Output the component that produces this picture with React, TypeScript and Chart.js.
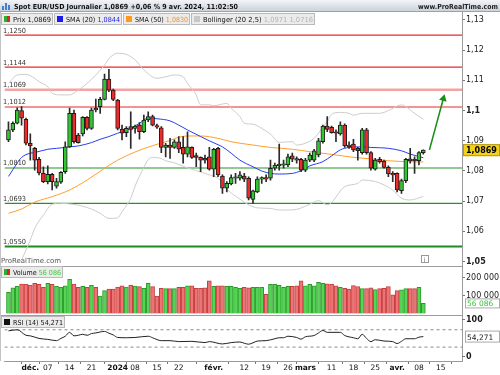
import React, { useEffect, useRef } from 'react';
import { Chart, registerables } from 'chart.js';

Chart.register(...registerables);

const FONT = '"DejaVu Sans", Verdana, sans-serif';

// trading-day index of the first candle (0 = Fri 1 Dec 2023; 25 Dec and 1 Jan are not trading days)
const FIRST_DAY = -5;

const OPEN = [
  1.0903, 1.0936, 1.0958, 1.1000, 1.0971, 1.0892, 1.0875, 1.0839, 1.0792, 1.0765,
  1.0789, 1.0750, 1.0763, 1.0798, 1.0880, 1.0991, 1.0919, 1.0923, 1.0978, 1.0941,
  1.1008, 1.1013, 1.1037, 1.1104, 1.1068, 1.1035, 1.0939, 1.0927, 1.0947, 1.0941,
  1.0952, 1.0930, 1.0969, 1.0980, 1.0950, 1.0943, 1.0878, 1.0886, 1.0878, 1.0897,
  1.0878, 1.0856, 1.0878, 1.0851, 1.0845, 1.0842, 1.0847, 1.0806, 1.0875, 1.0783,
  1.0743, 1.0757, 1.0776, 1.0776, 1.0783, 1.0776, 1.0706, 1.0731, 1.0773, 1.0778,
  1.0776, 1.0809, 1.0817, 1.0819, 1.0820, 1.0850, 1.0841, 1.0839, 1.0803, 1.0836,
  1.0836, 1.0853, 1.0897, 1.0949, 1.0945, 1.0930, 1.0923, 1.0952, 1.0886, 1.0889,
  1.0875, 1.0861, 1.0936, 1.0861, 1.0806, 1.0839, 1.0833, 1.0812, 1.0792, 1.0792,
  1.0735, 1.0768, 1.0840, 1.0839, 1.0834, 1.0861,
];
const HIGH = [
  1.0963, 1.0963, 1.1009, 1.1013, 1.0975, 1.0923, 1.0878, 1.0845, 1.0814, 1.0817,
  1.0792, 1.0776, 1.0798, 1.0897, 1.1008, 1.1002, 1.0925, 1.0980, 1.0980, 1.1008,
  1.1038, 1.1044, 1.1121, 1.1137, 1.1071, 1.1037, 1.0952, 1.0947, 1.0996, 1.0952,
  1.0960, 1.0985, 1.0996, 1.0985, 1.0955, 1.0947, 1.0892, 1.0908, 1.0903, 1.0914,
  1.0914, 1.0930, 1.0880, 1.0859, 1.0847, 1.0853, 1.0878, 1.0875, 1.0878, 1.0787,
  1.0765, 1.0787, 1.0792, 1.0798, 1.0792, 1.0781, 1.0737, 1.0781, 1.0781, 1.0787,
  1.0836, 1.0826, 1.0889, 1.0836, 1.0856, 1.0859, 1.0847, 1.0842, 1.0842, 1.0859,
  1.0872, 1.0908, 1.0952, 1.0980, 1.0949, 1.0936, 1.0963, 1.0956, 1.0897, 1.0905,
  1.0878, 1.0941, 1.0941, 1.0864, 1.0842, 1.0845, 1.0836, 1.0817, 1.0798, 1.0794,
  1.0773, 1.0842, 1.0875, 1.0847, 1.0864, 1.0870,
];
const LOW = [
  1.0897, 1.0930, 1.0956, 1.0952, 1.0886, 1.0836, 1.0803, 1.0787, 1.0761, 1.0757,
  1.0737, 1.0743, 1.0759, 1.0792, 1.0878, 1.0892, 1.0892, 1.0916, 1.0936, 1.0938,
  1.0996, 1.0991, 1.1035, 1.1063, 1.1033, 1.0936, 1.0903, 1.0914, 1.0875, 1.0925,
  1.0905, 1.0927, 1.0963, 1.0949, 1.0941, 1.0861, 1.0847, 1.0842, 1.0875, 1.0861,
  1.0826, 1.0847, 1.0842, 1.0814, 1.0798, 1.0826, 1.0803, 1.0781, 1.0781, 1.0726,
  1.0731, 1.0754, 1.0759, 1.0770, 1.0765, 1.0704, 1.0693, 1.0728, 1.0759, 1.0765,
  1.0770, 1.0803, 1.0803, 1.0809, 1.0814, 1.0831, 1.0826, 1.0798, 1.0798, 1.0831,
  1.0831, 1.0847, 1.0892, 1.0930, 1.0925, 1.0897, 1.0919, 1.0878, 1.0875, 1.0864,
  1.0836, 1.0856, 1.0856, 1.0803, 1.0803, 1.0826, 1.0809, 1.0781, 1.0765, 1.0731,
  1.0726, 1.0761, 1.0826, 1.0792, 1.0820, 1.0856,
];
const CLOSE = [
  1.0936, 1.0958, 1.1002, 1.0975, 1.0892, 1.0883, 1.0836, 1.0794, 1.0765, 1.0789,
  1.0765, 1.0765, 1.0796, 1.0880, 1.0991, 1.0897, 1.0894, 1.0978, 1.0941, 1.1002,
  1.1002, 1.1037, 1.1104, 1.1068, 1.1037, 1.0941, 1.0925, 1.0941, 1.0938, 1.0949,
  1.0930, 1.0969, 1.0980, 1.0952, 1.0945, 1.0878, 1.0886, 1.0878, 1.0897, 1.0872,
  1.0856, 1.0880, 1.0845, 1.0845, 1.0836, 1.0836, 1.0806, 1.0872, 1.0787, 1.0743,
  1.0759, 1.0778, 1.0781, 1.0787, 1.0773, 1.0710, 1.0734, 1.0773, 1.0776, 1.0773,
  1.0809, 1.0820, 1.0823, 1.0823, 1.0847, 1.0839, 1.0836, 1.0803, 1.0836, 1.0853,
  1.0867, 1.0900, 1.0949, 1.0938, 1.0927, 1.0925, 1.0952, 1.0883, 1.0880, 1.0870,
  1.0867, 1.0936, 1.0861, 1.0809, 1.0836, 1.0831, 1.0812, 1.0790, 1.0787, 1.0737,
  1.0768, 1.0839, 1.0834, 1.0834, 1.0861, 1.0869,
];
const VOLUME = [
  118000, 143000, 151000, 164000, 164000, 158000, 168000, 162000, 146000, 168000,
  162000, 151000, 146000, 154000, 190000, 164000, 146000, 151000, 146000, 157000,
  146000, 97000, 127000, 136000, 136000, 147000, 154000, 147000, 158000, 153000,
  149000, 140000, 168000, 149000, 97000, 140000, 138000, 138000, 138000, 146000,
  146000, 154000, 154000, 140000, 140000, 143000, 182000, 151000, 154000, 154000,
  151000, 151000, 146000, 140000, 146000, 143000, 146000, 146000, 146000, 107000,
  162000, 162000, 157000, 146000, 151000, 151000, 154000, 182000, 154000, 162000,
  154000, 173000, 168000, 165000, 162000, 154000, 146000, 140000, 136000, 155000,
  150000, 138000, 138000, 142000, 133000, 138000, 140000, 150000, 104000, 128000,
  131000, 138000, 138000, 138000, 146000, 56086,
];

const SMA20_DAY = [-5, -3, -2, 0, 1, 4, 6, 8, 9, 11, 14, 16, 18, 20, 23, 25, 27, 29, 32, 34, 36, 39, 41, 43, 44, 46, 48, 51, 53, 55, 57, 60, 62, 64, 67, 69, 71, 73, 76, 78, 80, 82, 85, 87, 90];
const SMA20 = [1.0782, 1.0826, 1.0845, 1.0859, 1.0861, 1.0872, 1.0875, 1.0878, 1.0880, 1.0883, 1.0894, 1.0905, 1.0914, 1.0925, 1.0941, 1.0958, 1.0975, 1.0973, 1.0966, 1.0952, 1.0936, 1.0914, 1.0900, 1.0887, 1.0880, 1.0859, 1.0836, 1.0814, 1.0800, 1.0792, 1.0790, 1.0792, 1.0801, 1.0817, 1.0831, 1.0850, 1.0870, 1.0878, 1.0880, 1.0878, 1.0877, 1.0875, 1.0867, 1.0856, 1.0844];

const SMA50_DAY = [-5, -2, 1, 5, 9, 13, 17, 20, 24, 28, 32, 34, 36, 39, 43, 46, 51, 55, 60, 64, 69, 73, 78, 82, 86, 90];
const SMA50 = [1.0660, 1.0674, 1.0697, 1.0715, 1.0737, 1.0770, 1.0809, 1.0836, 1.0863, 1.0884, 1.0901, 1.0912, 1.0916, 1.0916, 1.0908, 1.0897, 1.0886, 1.0878, 1.0872, 1.0864, 1.0855, 1.0847, 1.0840, 1.0834, 1.0831, 1.0830];

const BB_UP_DAY = [-5, -3, -1, 1, 2, 4, 5, 7, 9, 11, 13, 15, 17, 18, 20, 22, 24, 26, 29, 31, 33, 35, 36, 38, 39, 41, 42, 45, 46, 48, 49, 51, 53, 55, 57, 60, 61, 63, 65, 67, 68, 69, 71, 73, 74, 76, 80, 82, 85, 86, 88, 90];
const BB_UP = [1.1090, 1.1118, 1.1120, 1.1107, 1.1096, 1.1079, 1.1057, 1.1052, 1.1052, 1.1068, 1.1090, 1.1118, 1.1151, 1.1172, 1.1190, 1.1186, 1.1168, 1.1135, 1.1107, 1.1112, 1.1118, 1.1112, 1.1090, 1.1052, 1.1019, 1.1019, 1.1016, 1.1024, 1.1008, 1.0980, 1.0958, 1.0955, 1.0941, 1.0922, 1.0895, 1.0897, 1.0886, 1.0892, 1.0908, 1.0945, 1.0963, 1.0988, 1.0994, 1.0991, 1.0985, 1.0991, 1.0991, 1.1000, 1.1019, 1.1013, 1.0991, 1.0971];

const BB_LOW_DAY = [-2, 0, 1, 3, 5, 7, 9, 11, 14, 16, 18, 20, 21, 23, 24, 26, 27, 28, 30, 31, 33, 36, 39, 41, 43, 45, 48, 50, 52, 55, 57, 59, 61, 64, 66, 68, 72, 75, 76, 79, 81, 83, 85, 87, 90];
const BB_LOW = [1.0505, 1.0571, 1.0610, 1.0654, 1.0690, 1.0693, 1.0691, 1.0687, 1.0674, 1.0660, 1.0643, 1.0645, 1.0665, 1.0710, 1.0750, 1.0812, 1.0838, 1.0845, 1.0841, 1.0834, 1.0827, 1.0810, 1.0797, 1.0787, 1.0776, 1.0740, 1.0707, 1.0688, 1.0678, 1.0676, 1.0671, 1.0671, 1.0673, 1.0690, 1.0702, 1.0688, 1.0748, 1.0759, 1.0770, 1.0765, 1.0754, 1.0737, 1.0710, 1.0704, 1.0716];

const RSI_DAY = [-5, -3, -1, 0, 2, 4, 6, 7, 8, 9, 10, 11, 12, 13, 14, 15, 17, 18, 19, 20, 22, 24, 27, 28, 30, 32, 34, 37, 40, 41, 44, 46, 48, 49, 50, 51, 52, 54, 56, 57, 58, 59, 61, 62, 63, 65, 66, 67, 68, 71, 72, 74, 75, 76, 77, 78, 79, 81, 83, 84, 85, 86, 87, 88, 89, 90];
const RSI = [67.5, 70, 57.3, 56, 50, 47.8, 44.9, 50, 55, 64, 56, 57.3, 59.6, 57.3, 61.1, 62.7, 66.2, 62, 58, 52.2, 51.6, 52.2, 55.1, 51.6, 44.9, 44.9, 42.7, 43.3, 40.4, 42.7, 37.3, 40.4, 41.8, 38.9, 36.7, 40, 44, 44.9, 49.3, 51.6, 51.6, 55.1, 52.2, 48.4, 53.8, 56.7, 62.7, 68.4, 64, 64, 56.7, 51.6, 49.3, 59.6, 50, 42.7, 47.1, 44, 42.7, 38.2, 43.3, 49.3, 49.3, 49.3, 52.9, 54.271];
const RSI_BANDS = [30, 70];

const LEVELS = [1.1250, 1.1144, 1.1069, 1.1012, 1.0810, 1.0693, 1.0550];

const ARROW_DAY = [91.4, 94.6];
const ARROW_PRICE = [1.0870, 1.1040];

const X_TICK_DAY = [0, 4, 9, 14, 20, 24, 29, 34, 42, 49, 54, 59, 63, 69, 74, 79, 84, 89, 94];
const X_TICK_LABEL = ['déc.', '07', '14', '21', '2024', '08', '15', '22', 'févr.', '12', '19', '26', 'mars', '11', '18', '25', 'avr.', '08', '15'];
const PRICE_TICKS = [1.05, 1.06, 1.07, 1.08, 1.09, 1.10, 1.11, 1.12, 1.13];
const VOLUME_TICKS = [100000, 200000];
const RSI_TICKS = [0, 100];

const TITLE = 'Spot EUR/USD Journalier 1,0869 +0,06 % 9 avr. 2024, 11:02:50';
const SITE = 'www.ProRealTime.com';

// axis ranges (view window)
const X_MIN = -5.91, X_MAX = 98.86;
const P_MIN = 1.048543, P_MAX = 1.132649;
const V_MIN = -8300, V_MAX = 264000;
const R_MIN = -2, R_MAX = 104;

// styles
const UP = '#33c633';
const DOWN = '#ee2a2a';
const LEVEL_STYLE = [
  { c: '#e52b2b', w: 1.2 }, { c: '#e52b2b', w: 1.2 }, { c: '#f4a3a3', w: 2.6 }, { c: '#e52b2b', w: 1.2 },
  { c: '#24922a', w: 1.2 }, { c: '#24922a', w: 1.2 }, { c: '#1f8a1f', w: 2.2 },
];

const frNum = (v: number, d: number) => v.toFixed(d).replace('.', ',');
const frInt = (v: number) => Math.round(v).toString().replace(/\B(?=(\d{3})+(?!\d))/g, ' ');
const priceTick = (v: number) => v.toFixed(2).replace(/0+$/, '').replace(/\.$/, '').replace('.', ',');

type Part = [string, string];

function drawRun(ctx: CanvasRenderingContext2D, x: number, baseline: number, parts: Part[], font: string, maxW?: number, alignRight = false) {
  ctx.save();
  ctx.font = font;
  ctx.textBaseline = 'alphabetic';
  ctx.textAlign = 'left';
  const widths = parts.map((p) => ctx.measureText(p[0]).width);
  const total = widths.reduce((a, b) => a + b, 0);
  const k = maxW && total > maxW ? maxW / total : 1;
  const startX = alignRight ? x - total * k : x;
  ctx.translate(startX, baseline);
  ctx.scale(k, 1);
  let cx = 0;
  parts.forEach((p, i) => {
    ctx.fillStyle = p[1];
    ctx.fillText(p[0], cx, 0);
    cx += widths[i];
  });
  ctx.restore();
}

function legendBox(ctx: CanvasRenderingContext2D, x: number, y: number, w: number, h: number, icon: string, parts: Part[]) {
  ctx.save();
  ctx.fillStyle = '#ebebeb';
  ctx.fillRect(x, y, w, h);
  ctx.strokeStyle = '#b9b9b9';
  ctx.lineWidth = 1;
  ctx.strokeRect(x + 0.5, y + 0.5, w - 1, h - 1);
  const ix = x + 3, iy = y + 3, s = 6;
  if (icon === 'split') {
    ctx.fillStyle = '#2fae2f';
    ctx.fillRect(ix, iy, s / 2, s);
    ctx.fillStyle = '#d82828';
    ctx.fillRect(ix + s / 2, iy, s / 2, s);
  } else {
    ctx.fillStyle = icon;
    ctx.fillRect(ix, iy, s, s);
  }
  ctx.restore();
  drawRun(ctx, x + 12, y + h - 3, parts, `7px ${FONT}`, w - 14);
}

const overlay = {
  id: 'overlay',
  beforeDraw(chart: any) {
    const ctx = chart.ctx;
    ctx.save();
    ctx.fillStyle = '#ffffff';
    ctx.fillRect(0, 0, chart.width, chart.height);
    ctx.restore();
  },
  afterDatasetsDraw(chart: any) {
    const ctx = chart.ctx as CanvasRenderingContext2D;
    const yP = chart.scales.yPrice;
    LEVELS.forEach((lvl) => {
      const py = yP.getPixelForValue(lvl);
      drawRun(ctx, 3, py - 2.5, [[frNum(lvl, 4), '#333']], `7px ${FONT}`, 23);
    });
  },
  afterDraw(chart: any) {
    const ctx = chart.ctx as CanvasRenderingContext2D;
    const W = chart.width;
    const area = chart.chartArea;
    const yP = chart.scales.yPrice, yV = chart.scales.yVol, yR = chart.scales.yRsi;
    const last = CLOSE.length - 1;

    ctx.save();
    const g = ctx.createLinearGradient(0, 0, 0, 12);
    g.addColorStop(0, '#f2f4f7');
    g.addColorStop(1, '#c9d0d8');
    ctx.fillStyle = g;
    ctx.fillRect(0, 0, W, 12);
    ctx.fillStyle = '#9aa3ad';
    ctx.fillRect(0, 11, W, 1);
    const logo = [[2, 6, 4], [5, 3, 7], [8, 5, 5]];
    logo.forEach(([lx, ly, lh]) => {
      ctx.fillStyle = '#3f82d2';
      ctx.fillRect(lx, ly, 2, lh);
    });
    ctx.restore();
    drawRun(ctx, 14, 9, [[TITLE, '#111']], `bold 7px ${FONT}`, 224);
    drawRun(ctx, 498, 9, [[SITE, '#222']], `bold 7px ${FONT}`, 80, true);

    const lastSma20 = SMA20[SMA20.length - 1];
    const lastSma50 = SMA50[SMA50.length - 1];
    legendBox(ctx, 1, 13, 52, 12, 'split', [['Prix ' + frNum(CLOSE[last], 4), '#111']]);
    legendBox(ctx, 54, 13, 68, 12, '#1b1bf0', [['SMA (20) ', '#111'], [frNum(lastSma20, 4), '#2323ee']]);
    legendBox(ctx, 123, 13, 67, 12, '#ff9a1f', [['SMA (50) ', '#111'], [frNum(lastSma50, 4), '#f39322']]);
    legendBox(ctx, 191, 13, 124, 12, '#c8c8c8', [['Bollinger (20 2,5) ', '#111'], [frNum(BB_UP[BB_UP.length - 1], 4) + ' ' + frNum(BB_LOW[BB_LOW.length - 1], 4), '#b5b5b5']]);

    ctx.save();
    ctx.strokeStyle = '#9c9c9c';
    ctx.lineWidth = 1;
    [yV.top, yR.top].forEach((yy: number) => {
      const y = Math.round(yy) + 0.5;
      ctx.beginPath();
      ctx.moveTo(0, y);
      ctx.lineTo(area.right, y);
      ctx.stroke();
    });
    ctx.strokeStyle = '#c4c4c4';
    ctx.beginPath();
    ctx.moveTo(0.5, area.top);
    ctx.lineTo(0.5, area.bottom);
    ctx.stroke();
    ctx.restore();

    drawRun(ctx, 1, yV.top - 3, [['ProRealTime.com', '#555']], `7px ${FONT}`, 60);
    ctx.save();
    ctx.strokeStyle = '#999';
    ctx.strokeRect(421.5, yV.top - 10.5, 7, 7);
    ctx.restore();
    drawRun(ctx, 423.8, yV.top - 4.5, [['i', '#666']], `6px ${FONT}`);

    legendBox(ctx, 1, yV.top, 62, 12, 'split', [['Volume ', '#111'], [frInt(VOLUME[last]), '#3cc83c']]);
    legendBox(ctx, 1, yR.top + 1, 64, 12, '#111', [['RSI (14) ' + frNum(RSI[RSI.length - 1], 3), '#111']]);

    // RSI panel scale labels (0 is nudged inside the panel, as in the source)
    const xr = area.right;
    RSI_TICKS.forEach((t) => {
      const tp = yR.getPixelForValue(t);
      const ty = Math.max(yR.top + 4, Math.min(tp, yR.bottom - 5));
      ctx.save();
      ctx.strokeStyle = '#777';
      ctx.lineWidth = 1;
      ctx.beginPath();
      ctx.moveTo(xr, Math.round(ty) + 0.5);
      ctx.lineTo(xr + 3, Math.round(ty) + 0.5);
      ctx.stroke();
      ctx.restore();
      drawRun(ctx, xr + 4, ty + 3, [[String(t), '#1a1a1a']], `bold 8px ${FONT}`);
    });

    const py = yP.getPixelForValue(CLOSE[last]);
    ctx.save();
    ctx.fillStyle = '#f3d21d';
    ctx.fillRect(xr + 1, py - 6, W - xr - 1, 12);
    ctx.strokeStyle = '#b39a10';
    ctx.strokeRect(xr + 1.5, py - 5.5, W - xr - 2, 11);
    ctx.restore();
    drawRun(ctx, xr + 4, py + 3, [[frNum(CLOSE[last], 4), '#000']], `bold 8px ${FONT}`, W - xr - 6);

    const vy = yV.getPixelForValue(VOLUME[last]);
    ctx.save();
    ctx.fillStyle = '#fff';
    ctx.fillRect(xr + 3, vy - 5, W - xr - 3, 10);
    ctx.strokeStyle = '#aaa';
    ctx.strokeRect(xr + 3.5, vy - 4.5, W - xr - 4, 9);
    ctx.restore();
    drawRun(ctx, xr + 5, vy + 3, [[frInt(VOLUME[last]), '#36c436']], `7.5px ${FONT}`, W - xr - 7);

    const ry = yR.getPixelForValue(RSI[RSI.length - 1]);
    ctx.save();
    ctx.fillStyle = '#fff';
    ctx.fillRect(xr + 3, ry - 6, W - xr - 3, 12);
    ctx.strokeStyle = '#aaa';
    ctx.strokeRect(xr + 3.5, ry - 5.5, W - xr - 4, 11);
    ctx.restore();
    drawRun(ctx, xr + 5, ry + 3, [[frNum(RSI[RSI.length - 1], 3), '#222']], `7.5px ${FONT}`, W - xr - 7);
  },
};

export default function App() {
  const ref = useRef<HTMLCanvasElement>(null);

  useEffect(() => {
    document.body.style.margin = '0';
    const canvas = ref.current;
    if (!canvas) return;

    const days = CLOSE.map((_, i) => FIRST_DAY + i);
    const isUp = CLOSE.map((c, i) => c >= OPEN[i]);
    const pts = (xs: number[], ys: number[]) => xs.map((x, i) => ({ x, y: ys[i] }));
    const span = (y: number) => [{ x: X_MIN, y }, { x: X_MAX, y }];
    const lineBase = { type: 'line' as const, pointRadius: 0, borderWidth: 1, tension: 0.35, cubicInterpolationMode: 'monotone' as const, fill: false };

    const datasets: any[] = [
      {
        ...lineBase, label: 'arrow', data: pts(ARROW_DAY, ARROW_PRICE), yAxisID: 'yPrice',
        borderColor: '#1b8f1b', borderWidth: 1.6, tension: 0,
        pointRadius: [0, 4.5], pointStyle: 'triangle', pointRotation: 15,
        pointBackgroundColor: '#1b8f1b', pointBorderColor: '#1b8f1b', pointBorderWidth: 0, order: 0,
      },
      {
        type: 'bar', label: 'bodies', yAxisID: 'yPrice',
        data: days.map((x, i) => ({ x, y: [OPEN[i], CLOSE[i]] })),
        backgroundColor: isUp.map((u) => (u ? UP : DOWN)),
        borderColor: '#1c1c1c', borderWidth: 1, borderSkipped: false,
        barThickness: 4, grouped: false, minBarLength: 1.5, order: 1,
      },
      {
        type: 'bar', label: 'wicks', yAxisID: 'yPrice',
        data: days.map((x, i) => ({ x, y: [LOW[i], HIGH[i]] })),
        backgroundColor: '#2b2b2b', borderWidth: 0, barThickness: 1, grouped: false, order: 2,
      },
      { ...lineBase, label: 'SMA20', data: pts(SMA20_DAY, SMA20), yAxisID: 'yPrice', borderColor: '#2a3df2', order: 3 },
      { ...lineBase, label: 'SMA50', data: pts(SMA50_DAY, SMA50), yAxisID: 'yPrice', borderColor: '#ffa02e', order: 4 },
      { ...lineBase, label: 'BBup', data: pts(BB_UP_DAY, BB_UP), yAxisID: 'yPrice', borderColor: '#cdcdcd', order: 5 },
      { ...lineBase, label: 'BBlow', data: pts(BB_LOW_DAY, BB_LOW), yAxisID: 'yPrice', borderColor: '#cdcdcd', order: 5 },
      ...LEVELS.map((lvl, i) => ({
        ...lineBase, label: 'level', data: span(lvl), yAxisID: 'yPrice', tension: 0,
        borderColor: LEVEL_STYLE[i].c, borderWidth: LEVEL_STYLE[i].w, order: 6,
      })),
      {
        type: 'bar', label: 'volume', yAxisID: 'yVol',
        data: days.map((x, i) => ({ x, y: VOLUME[i] })),
        backgroundColor: isUp.map((u) => (u ? '#55d455' : '#ec7474')),
        borderColor: isUp.map((u) => (u ? '#2a9a2a' : '#c63e3e')),
        borderWidth: 1, barThickness: 4, grouped: false, order: 1,
      },
      { ...lineBase, label: 'RSI', data: pts(RSI_DAY, RSI), yAxisID: 'yRsi', borderColor: '#222', tension: 0, order: 1 },
      ...RSI_BANDS.map((b) => ({
        ...lineBase, label: 'rsiBand', data: span(b), yAxisID: 'yRsi', tension: 0,
        borderColor: '#8a8a8a', borderDash: [3, 3], order: 2,
      })),
    ];

    const yCommon = (weight: number, min: number, max: number, ticks: number[], label: (v: number) => string, bold: (v: number) => boolean) => ({
      type: 'linear' as const,
      position: 'right' as const,
      stack: 'panels',
      stackWeight: weight,
      min, max,
      afterBuildTicks: (s: any) => { s.ticks = ticks.map((v) => ({ value: v })); },
      afterFit: (s: any) => { s.width = 38; },
      grid: { drawOnChartArea: false, drawTicks: true, tickLength: 3, color: '#777' },
      border: { display: true, color: '#9a9a9a' },
      ticks: {
        autoSkip: false,
        padding: 1,
        color: '#222',
        callback: (v: any) => label(Number(v)),
        font: (c: any) => ({ family: FONT, size: 8, weight: bold(c.tick ? c.tick.value : 0) ? 'bold' : 'normal' }),
      },
    });

    const chart = new Chart(canvas, {
      type: 'line',
      data: { datasets },
      options: {
        responsive: false,
        maintainAspectRatio: false,
        animation: false,
        events: [],
        layout: { padding: { top: 12, left: 1, right: 0, bottom: 0 } },
        plugins: { legend: { display: false }, tooltip: { enabled: false }, title: { display: false } },
        scales: {
          x: {
            type: 'linear',
            min: X_MIN, max: X_MAX, offset: false,
            afterBuildTicks: (s: any) => { s.ticks = X_TICK_DAY.map((v) => ({ value: v })); },
            afterFit: (s: any) => { s.height = 14; },
            grid: { drawOnChartArea: false, drawTicks: true, tickLength: 3, color: '#777' },
            border: { display: true, color: '#9a9a9a' },
            ticks: {
              autoSkip: false, maxRotation: 0, minRotation: 0, padding: 0, color: '#111',
              callback: (_v: any, i: number) => X_TICK_LABEL[i],
              font: (c: any) => ({ family: FONT, size: 7.5, weight: (X_TICK_LABEL[c.index] || '').length > 2 ? 'bold' : 'normal' }),
            },
          },
          yPrice: yCommon(254, P_MIN, P_MAX, PRICE_TICKS, priceTick, (v) => Math.abs(v * 20 - Math.round(v * 20)) < 1e-6),
          yVol: yCommon(49, V_MIN, V_MAX, VOLUME_TICKS, frInt, () => false),
          yRsi: yCommon(46, R_MIN, R_MAX, [], (v) => String(v), () => true),
        } as any,
      },
      plugins: [overlay as any],
    } as any);

    return () => chart.destroy();
  }, []);

  return (
    <div style={{ width: 500, height: 375, position: 'relative' }}>
      <canvas ref={ref} width={500} height={375} style={{ display: 'block', width: 500, height: 375 }} />
    </div>
  );
}
